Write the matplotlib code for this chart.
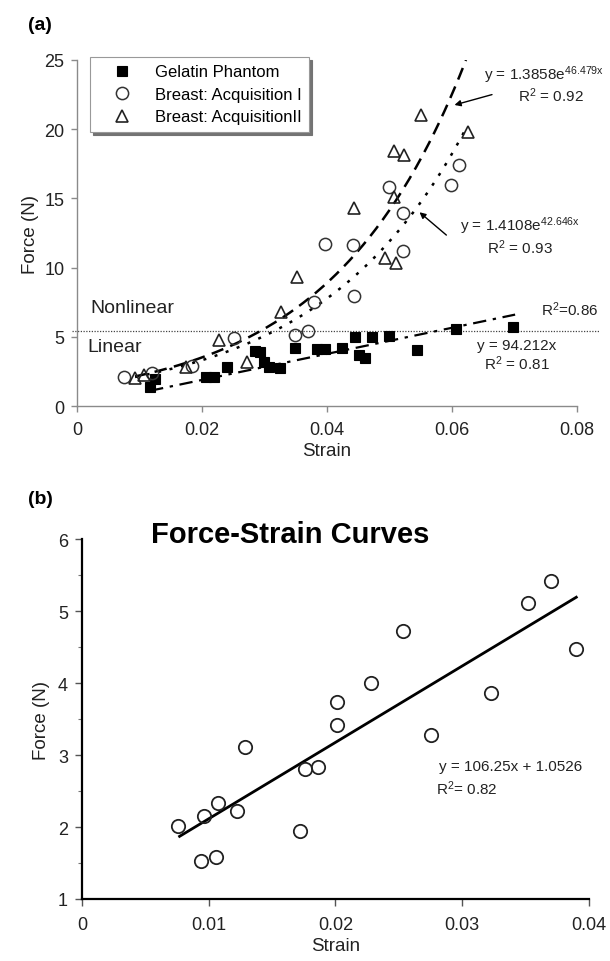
import numpy as np
import matplotlib
matplotlib.use("Agg")
import matplotlib.pyplot as plt
from matplotlib.ticker import FuncFormatter, MultipleLocator

plt.rcParams['font.family'] = ['Liberation Sans', 'DejaVu Sans']
plt.rcParams['mathtext.fontset'] = 'custom'
plt.rcParams['mathtext.rm'] = 'Liberation Sans'
plt.rcParams['mathtext.it'] = 'Liberation Sans:italic'

# ---------------- data: panel (a) ----------------
gel_strain = [0.0117, 0.0125, 0.0206, 0.0219, 0.0240, 0.0285, 0.0293, 0.0300, 0.0307,
              0.0325, 0.0349, 0.0384, 0.0397, 0.0424, 0.0445, 0.0452, 0.0461, 0.0472,
              0.0500, 0.0544, 0.0606, 0.0698]
gel_force = [1.4, 1.95, 2.1, 2.1, 2.8, 4.0, 3.9, 3.2, 2.8,
             2.75, 4.2, 4.1, 4.1, 4.2, 5.0, 3.7, 3.45, 5.0,
             5.05, 4.05, 5.6, 5.7]

acq1_strain = [0.0075, 0.0120, 0.0184, 0.0252, 0.0349, 0.0369, 0.0380, 0.0397, 0.0442,
               0.0443, 0.0500, 0.0522, 0.0522, 0.0598, 0.0612]
acq1_force = [2.08, 2.35, 2.9, 4.9, 5.15, 5.45, 7.5, 11.7, 11.6,
              7.96, 15.8, 11.2, 13.95, 16.0, 17.4]

acq2_strain = [0.0093, 0.0108, 0.0174, 0.0228, 0.0272, 0.0327, 0.0352, 0.0444, 0.0493,
               0.0508, 0.0508, 0.0510, 0.0524, 0.0551, 0.0626]
acq2_force = [2.04, 2.25, 2.8, 4.8, 3.2, 6.8, 9.3, 14.3, 10.7,
              15.1, 18.4, 10.3, 18.1, 21.0, 19.8]

legend_labels = ["Gelatin Phantom", "Breast: Acquisition I", "Breast: AcquisitionII"]

# fitted trend lines (coefficients as printed in the chart)
exp2_a, exp2_b = 1.3858, 46.479
exp1_a, exp1_b = 1.4108, 42.646
lin_gel_slope = 94.212
threshold_force = 5.4

xticks_a = [0, 0.02, 0.04, 0.06, 0.08]
yticks_a = [0, 5, 10, 15, 20, 25]

# ---------------- data: panel (b) ----------------
b_strain = [0.0076, 0.0096, 0.0107, 0.0094, 0.0106, 0.0122, 0.0129, 0.0172, 0.0176,
            0.0186, 0.0201, 0.0201, 0.0228, 0.0253, 0.0275, 0.0323, 0.0352, 0.0370, 0.0390]
b_force = [2.01, 2.15, 2.33, 1.53, 1.59, 2.22, 3.12, 1.94, 2.81,
           2.84, 3.42, 3.74, 4.00, 4.73, 3.28, 3.87, 5.11, 5.42, 4.47]
b_slope, b_intercept = 106.25, 1.0526

xticks_b = [0, 0.01, 0.02, 0.03, 0.04]
yticks_b = [1, 2, 3, 4, 5, 6]


fig = plt.figure(figsize=(6.10, 9.62), dpi=100)

# ================= panel (a) =================
ax = fig.add_axes([0.1262, 0.5769, 0.8197, 0.3597])
grey = '#8a8a8a'
for s in ['top', 'right']:
    ax.spines[s].set_visible(False)
for s in ['left', 'bottom']:
    ax.spines[s].set_color(grey)
    ax.spines[s].set_linewidth(1.0)
ax.set_xlim(0, 0.08)
ax.set_ylim(0, 25)
ax.set_xticks(xticks_a)
ax.set_yticks(yticks_a)
ax.xaxis.set_major_formatter(FuncFormatter(lambda v, p: "0" if v == 0 else f"{v:.2f}"))
ax.yaxis.set_major_formatter(FuncFormatter(lambda v, p: f"{v:g}"))
ax.tick_params(axis='both', direction='out', length=4, width=1, color=grey,
               labelsize=13, labelcolor='#222222')
ax.tick_params(axis='x', pad=7)
ax.tick_params(axis='y', pad=5)
ax.set_xlabel("Strain", fontsize=13.5, color='#222222', labelpad=3)
ax.set_ylabel("Force (N)", fontsize=13.5, color='#222222', labelpad=4)

# threshold line
ax.plot([-0.01, 1.045], [threshold_force, threshold_force], transform=ax.get_yaxis_transform(),
        color='#444444', lw=0.9, ls=(0, (1, 1.2)), clip_on=False, zorder=1)

# trend curves
xs2 = np.linspace(0.0093, np.log(25 / exp2_a) / exp2_b, 200)
ax.plot(xs2, exp2_a * np.exp(exp2_b * xs2), color='black', lw=1.8, ls=(0, (5, 3)), zorder=2)
xs1 = np.linspace(0.0093, 0.0625, 200)
ax.plot(xs1, exp1_a * np.exp(exp1_b * xs1), color='black', lw=1.8, ls=(0, (1.2, 3.5)), zorder=2)
xsl = np.linspace(0.0117, 0.0701, 50)
ax.plot(xsl, lin_gel_slope * xsl, color='black', lw=1.6, ls=(0, (6, 3, 1.5, 3)), zorder=2)

h1, = ax.plot(gel_strain, gel_force, ls='none', marker='s', ms=7.2, mfc='black', mec='black',
              mew=0.8, zorder=4)
h2, = ax.plot(acq1_strain, acq1_force, ls='none', marker='o', ms=8.8, mfc='none', mec='#333333',
              mew=1.1, zorder=4)
h3, = ax.plot(acq2_strain, acq2_force, ls='none', marker='^', ms=8.8, mfc='none', mec='#222222',
              mew=1.2, zorder=4)

leg = ax.legend([h1, h2, h3], legend_labels, loc='upper left', bbox_to_anchor=(0.026, 1.009),
                fontsize=12, frameon=True, fancybox=False, borderaxespad=0, borderpad=0.45,
                handlelength=2.9, handletextpad=0.55, labelspacing=0.45,
                shadow={'color': '0.45', 'alpha': 1.0})
leg.get_frame().set_edgecolor('#999999')
leg.get_frame().set_linewidth(0.8)
leg.get_frame().set_alpha(1.0)

# region labels
ax.text(0.0021, 7.1, "Nonlinear", fontsize=14, color='#222222', va='center', ha='left')
ax.text(0.0017, 4.3, "Linear", fontsize=14, color='#222222', va='center', ha='left')

# equations
ann = dict(fontsize=11, color='#222222', clip_on=False)
ax.text(0.0652, 23.95, r"y = 1.3858e$^{\mathrm{46.479x}}$", ha='left', va='center', **ann)
ax.text(0.0706, 22.5, r"R$^{2}$ = 0.92", ha='left', va='center', **ann)
ax.text(0.0613, 13.06, r"y = 1.4108e$^{\mathrm{42.646x}}$", ha='left', va='center', **ann)
ax.text(0.0656, 11.5, r"R$^{2}$ = 0.93", ha='left', va='center', **ann)
ax.text(0.0742, 7.0, r"R$^{2}$=0.86", ha='left', va='center', **ann)
ax.text(0.0704, 4.41, "y = 94.212x", ha='center', va='center', **ann)
ax.text(0.0704, 3.1, r"R$^{2}$ = 0.81", ha='center', va='center', **ann)

arrow = dict(arrowstyle='-|>', color='black', lw=1.0, mutation_scale=9, shrinkA=0, shrinkB=0)
ax.annotate("", xy=(0.0604, 21.75), xytext=(0.0664, 22.5), arrowprops=arrow, annotation_clip=False)
ax.annotate("", xy=(0.0548, 14.0), xytext=(0.0591, 12.35), arrowprops=arrow, annotation_clip=False)

fig.text(28 / 610, 1 - 25 / 962, "(a)", fontsize=14, fontweight='bold', ha='left', va='center')

# ================= panel (b) =================
bx = fig.add_axes([0.1344, 0.0645, 0.8311, 0.3737])
for s in ['top', 'right']:
    bx.spines[s].set_visible(False)
for s in ['left', 'bottom']:
    bx.spines[s].set_color('black')
    bx.spines[s].set_linewidth(1.6)
bx.set_xlim(0, 0.04)
bx.set_ylim(1, 6)
bx.set_xticks(xticks_b)
bx.set_yticks(yticks_b)
bx.yaxis.set_minor_locator(MultipleLocator(0.5))
bx.xaxis.set_major_formatter(FuncFormatter(lambda v, p: "0" if v == 0 else f"{v:.2f}"))
bx.yaxis.set_major_formatter(FuncFormatter(lambda v, p: f"{v:g}"))
bx.tick_params(axis='both', which='major', direction='out', length=5, width=1, color='#555555',
               labelsize=13, labelcolor='#222222')
bx.tick_params(axis='y', which='minor', direction='out', length=3, width=0.8, color='#777777')
bx.tick_params(axis='x', pad=7)
bx.tick_params(axis='y', pad=5)
bx.set_xlabel("Strain", fontsize=13.5, color='#222222', labelpad=3)
bx.set_ylabel("Force (N)", fontsize=13.5, color='#222222', labelpad=6)

bx.plot(b_strain, b_force, ls='none', marker='o', ms=9.6, mfc='none', mec='#222222', mew=1.3,
        zorder=4)
xb = np.linspace(0.0077, 0.039, 50)
bx.plot(xb, b_slope * xb + b_intercept, color='black', lw=2.0, zorder=3)

bx.text(0.0282, 2.85, "y = 106.25x + 1.0526", fontsize=11, color='#222222', ha='left', va='center')
bx.text(0.0279, 2.55, r"R$^{2}$= 0.82", fontsize=11, color='#222222', ha='left', va='center')

fig.text(290 / 610, 1 - 535 / 962, "Force-Strain Curves", fontsize=21, fontweight='bold',
         ha='center', va='center')
fig.text(28 / 610, 1 - 500 / 962, "(b)", fontsize=14, fontweight='bold', ha='left', va='center')

fig.savefig("out.png", dpi=100)
